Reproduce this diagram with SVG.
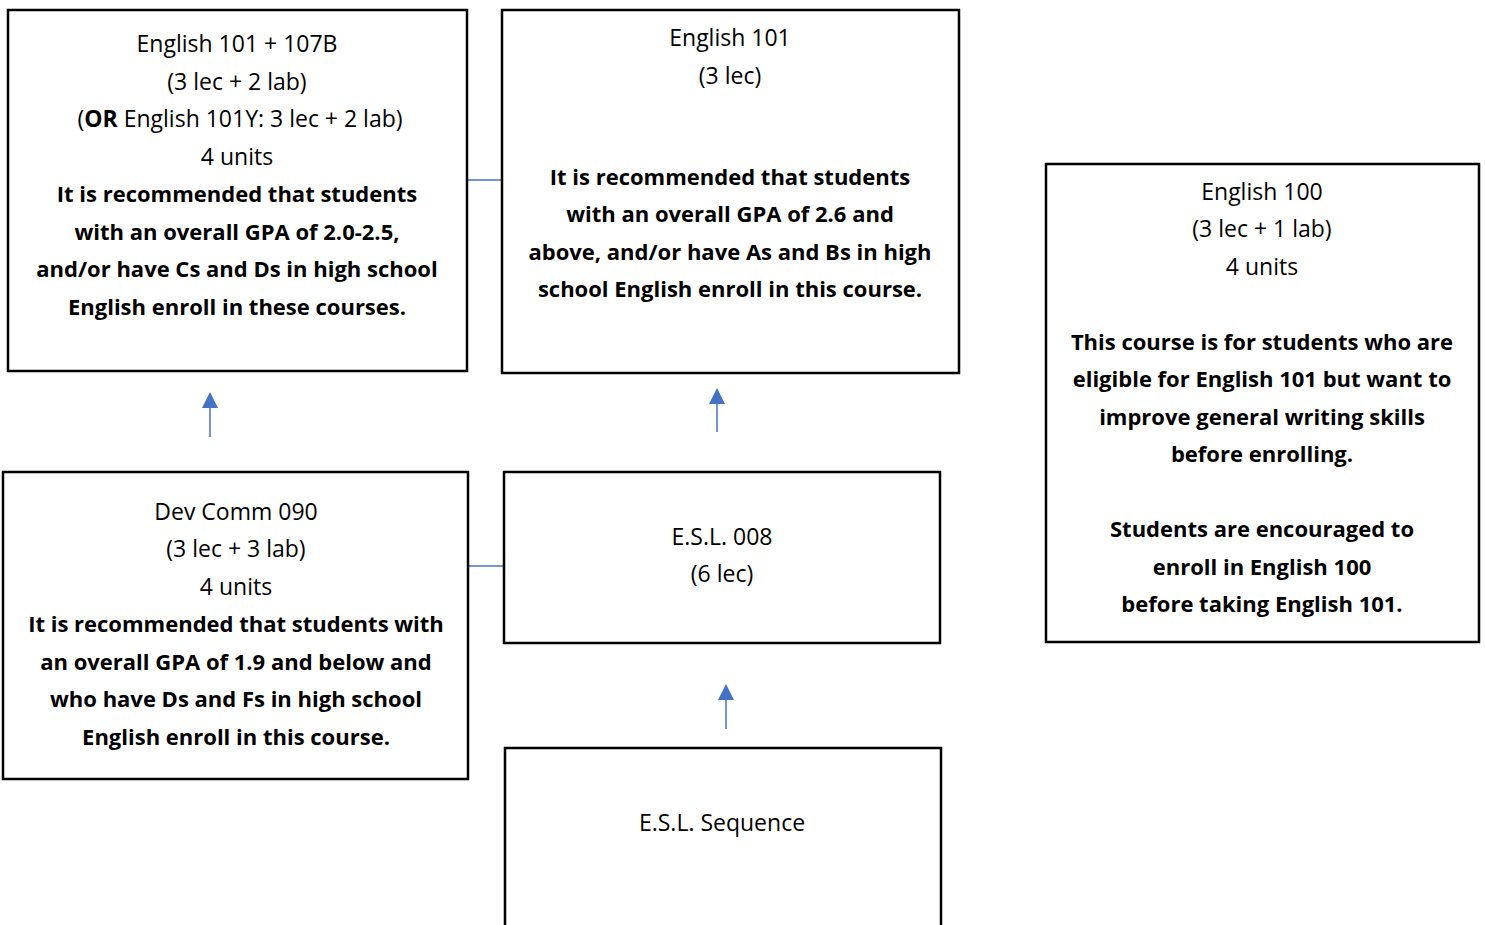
<svg xmlns="http://www.w3.org/2000/svg" width="1485" height="925" viewBox="0 0 1485 925">
<style>
.box{fill:#fff;stroke:#000;stroke-width:2.5}
text{font-family:"Open Sans","Liberation Sans",Arial,sans-serif;font-size:23px;fill:#000;text-anchor:middle}
.b{font-weight:bold;font-size:22px}
.con{stroke:#4472c4;stroke-width:1.5;fill:none}
</style>
<defs>
<marker id="ah2" viewBox="0 0 16 16" refX="0" refY="8" markerWidth="16" markerHeight="16" orient="auto" markerUnits="userSpaceOnUse">
<path d="M0,0 L16,8 L0,16 z" fill="#4472c4"/>
</marker>
</defs>
<rect width="1485" height="925" fill="#fff"/>
<g id="connectors">
<line class="con" x1="467" y1="180" x2="502" y2="180"/>
<line class="con" x1="468" y1="566" x2="504" y2="566"/>
<line class="con" x1="210" y1="437" x2="210" y2="408" marker-end="url(#ah2)"/>
<line class="con" x1="717" y1="432" x2="717" y2="404" marker-end="url(#ah2)"/>
<line class="con" x1="726" y1="729" x2="726" y2="700" marker-end="url(#ah2)"/>
</g>
<g id="eng101_107b">
<rect class="box" x="8" y="10" width="459" height="361"/>
<text x="237" y="52">English 101 + 107B</text>
<text x="237" y="90">(3 lec + 2 lab)</text>
<text x="240" y="127">(<tspan class="b" style="font-size:23px">OR</tspan> English 101Y: 3 lec + 2 lab)</text>
<text x="237" y="165">4 units</text>
<text class="b" x="237" y="202">It is recommended that students</text>
<text class="b" x="237" y="240">with an overall GPA of 2.0-2.5,</text>
<text class="b" x="237" y="277">and/or have Cs and Ds in high school</text>
<text class="b" x="237" y="315">English enroll in these courses.</text>
</g>
<g id="eng101">
<rect class="box" x="502" y="10" width="457" height="363"/>
<text x="730" y="46">English 101</text>
<text x="730" y="84">(3 lec)</text>
<text class="b" x="730" y="185">It is recommended that students</text>
<text class="b" x="730" y="222">with an overall GPA of 2.6 and</text>
<text class="b" x="730" y="260">above, and/or have As and Bs in high</text>
<text class="b" x="730" y="297">school English enroll in this course.</text>
</g>
<g id="eng100">
<rect class="box" x="1046" y="164" width="433" height="478"/>
<text x="1262" y="200">English 100</text>
<text x="1262" y="237">(3 lec + 1 lab)</text>
<text x="1262" y="275">4 units</text>
<text class="b" x="1262" y="350">This course is for students who are</text>
<text class="b" x="1262" y="387">eligible for English 101 but want to</text>
<text class="b" x="1262" y="425">improve general writing skills</text>
<text class="b" x="1262" y="462">before enrolling.</text>
<text class="b" x="1262" y="537">Students are encouraged to</text>
<text class="b" x="1262" y="575">enroll in English 100</text>
<text class="b" x="1262" y="612">before taking English 101.</text>
</g>
<g id="devcomm090">
<rect class="box" x="3" y="472" width="465" height="307"/>
<text x="236" y="520">Dev Comm 090</text>
<text x="236" y="557">(3 lec + 3 lab)</text>
<text x="236" y="595">4 units</text>
<text class="b" x="236" y="632">It is recommended that students with</text>
<text class="b" x="236" y="670">an overall GPA of 1.9 and below and</text>
<text class="b" x="236" y="707">who have Ds and Fs in high school</text>
<text class="b" x="236" y="745">English enroll in this course.</text>
</g>
<g id="esl008">
<rect class="box" x="504" y="472" width="436" height="171"/>
<text x="722" y="545">E.S.L. 008</text>
<text x="722" y="582">(6 lec)</text>
</g>
<g id="eslseq">
<rect class="box" x="505" y="748" width="436" height="190"/>
<text x="722" y="831">E.S.L. Sequence</text>
</g>
</svg>
